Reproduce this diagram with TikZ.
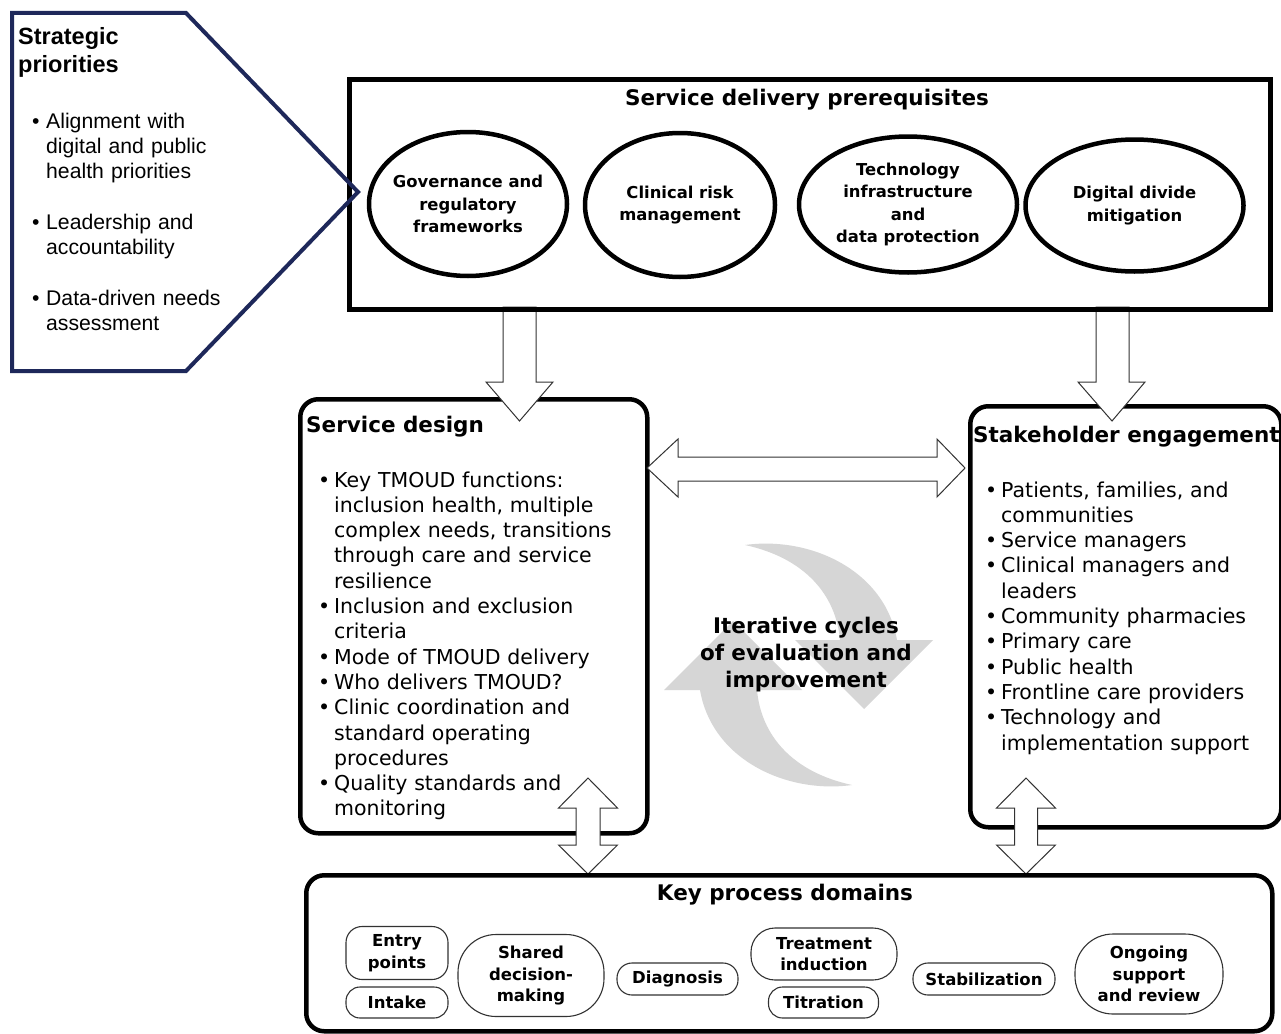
\documentclass[tikz,border=0pt]{standalone}
\usepackage{fontspec}
\setmainfont{DejaVu Sans}
\newfontfamily\arialf{Liberation Sans}
\usetikzlibrary{shapes.geometric}
\definecolor{navy}{RGB}{30,40,90}
\definecolor{cycgray}{RGB}{214,214,214}
\definecolor{arrowline}{RGB}{50,50,50}
\newlength\bind
\newcommand\bfirst[1]{\noindent\hangindent=\bind\hangafter=1\makebox[\bind][l]{\textbullet}#1\par}
\newcommand\bitem[1]{\par\noindent\hangindent=\bind\hangafter=1\makebox[\bind][l]{\textbullet}#1\par}
\begin{document}
\begin{tikzpicture}[x=1pt,y=-1pt,
  bigbox/.style={draw=black,line width=4.5pt,inner sep=0pt},
  rbox/.style={draw=black,line width=4.5pt,rounded corners=18pt,inner sep=0pt},
  ell/.style={draw=black,line width=4.5pt,ellipse,inner sep=0pt},
  elltxt/.style={inner sep=0pt,align=center,font=\bfseries\fontsize{16.4}{22.5}\selectfont},
  pill/.style={draw=arrowline,line width=1.1pt,inner sep=0pt,align=center,font=\bfseries\fontsize{16.5}{21.5}\selectfont},
  fat/.style={draw=arrowline,fill=white,line width=1pt,line join=miter},
  cyc/.style={fill=cycgray},
  ttl/.style={font=\bfseries\fontsize{21.5}{27}\selectfont,inner sep=0pt},
  lst/.style={font=\fontsize{20.5}{25.3}\selectfont,inner sep=0pt,text width=#1,align=left},
  sp/.style={font=\arialf\fontsize{21.2}{25}\selectfont,inner sep=0pt,text width=220pt,align=left,anchor=base west},
]
\useasboundingbox (0,0) rectangle (1281,1033);
\fill[white] (0,0) rectangle (1281,1033);

% iterative cycle arrows
\fill[cyc] (745,545) .. controls (810,536) and (885,570) .. (897,640) -- (933,640) -- (864,709) -- (795,640) -- (840,640) .. controls (836,595) and (805,558) .. (745,545) -- cycle;
\fill[cyc,rotate around={180:(798.5,665)}] (745,545) .. controls (810,536) and (885,570) .. (897,640) -- (933,640) -- (864,709) -- (795,640) -- (840,640) .. controls (836,595) and (805,558) .. (745,545) -- cycle;

% middle boxes
\node[rbox,minimum width=347pt,minimum height=434pt,anchor=north west] (design) at (298,397) {};
\node[rbox,minimum width=311pt,minimum height=421pt,anchor=north west] (stake) at (968,404) {};

% block arrows
\draw[fat] (503,307) -- (503,382) -- (486,382) -- (519.5,421) -- (553,382) -- (536,382) -- (536,307) -- cycle;
\draw[fat] (1096,307) -- (1096,382) -- (1078,382) -- (1112,421) -- (1145,382) -- (1129,382) -- (1129,307) -- cycle;
\draw[fat] (647,468) -- (678,439) -- (678,457) -- (937,457) -- (937,439) -- (965,468) -- (937,497) -- (937,481) -- (678,481) -- (678,497) -- cycle;
\draw[fat] (588,778) -- (617.5,808) -- (600,808) -- (600,845) -- (617.5,845) -- (588,874) -- (558.5,845) -- (576,845) -- (576,808) -- (558.5,808) -- cycle;
\draw[fat] (1026,778) -- (1055.5,808) -- (1037.5,808) -- (1037.5,845) -- (1055.5,845) -- (1026,874) -- (996.5,845) -- (1014.5,845) -- (1014.5,808) -- (996.5,808) -- cycle;

% top and bottom boxes
\node[bigbox,minimum width=921pt,minimum height=230pt,anchor=north west] (prereq) at (347,77) {};
\node[rbox,minimum width=966pt,minimum height=156pt,anchor=north west] (keybox) at (304,873) {};

% prerequisites
\node[ttl,anchor=base] (prereqt) at (807,105) {Service delivery prerequisites};
\node[ell,minimum width=198pt,minimum height=144pt] (gov) at (468,204) {};
\node[elltxt] (govt) at (gov) {Governance and\\regulatory\\frameworks};
\node[ell,minimum width=190pt,minimum height=144pt] (clin) at (680,205) {};
\node[elltxt] (clint) at (clin) {Clinical risk\\management};
\node[ell,minimum width=218pt,minimum height=136pt] (tech) at (908,204.5) {};
\node[elltxt] (techt) at (tech) {Technology\\infrastructure\\and\\data protection};
\node[ell,minimum width=218pt,minimum height=132pt] (dig) at (1134.5,205.5) {};
\node[elltxt] (digt) at (dig) {Digital divide\\mitigation};

% service design
\node[ttl,anchor=base west] (designt) at (306,432) {Service design};
\node[lst=320pt,anchor=base west] (designl) at (318,487) {\setlength\bind{16pt}%
\bfirst{Key TMOUD functions:\newline inclusion health, multiple\newline complex needs, transitions\newline through care and service\newline resilience}%
\bitem{Inclusion and exclusion\newline criteria}%
\bitem{Mode of TMOUD delivery}%
\bitem{Who delivers TMOUD?}%
\bitem{Clinic coordination and\newline standard operating\newline procedures}%
\bitem{Quality standards and\newline monitoring}};

% stakeholder engagement
\node[ttl,anchor=base west] (staket) at (973,442) {Stakeholder engagement};
\node[lst=300pt,anchor=base west] (stakel) at (985,497) {\setlength\bind{16pt}%
\bfirst{Patients, families, and\newline communities}%
\bitem{Service managers}%
\bitem{Clinical managers and\newline leaders}%
\bitem{Community pharmacies}%
\bitem{Primary care}%
\bitem{Public health}%
\bitem{Frontline care providers}%
\bitem{Technology and\newline implementation support}};

% iterative cycles text
\node[font=\bfseries\fontsize{21.5}{27}\selectfont,text width=260pt,align=center,anchor=base,inner sep=0pt] (iter) at (806,633) {Iterative cycles\\of evaluation and\\improvement};

% key process domains
\node[ttl,anchor=base] (keyt) at (785,900) {Key process domains};
\node[pill,minimum width=102pt,minimum height=53pt,rounded corners=16pt] (entry) at (397,953) {Entry\\points};
\node[pill,minimum width=102pt,minimum height=31pt,rounded corners=14pt] (intake) at (397,1002.5) {Intake};
\node[pill,minimum width=146pt,minimum height=82pt,rounded corners=38pt] (shared) at (531,975.5) {Shared\\decision-\\making};
\node[pill,minimum width=121pt,minimum height=32pt,rounded corners=15pt] (diag) at (677.5,979) {Diagnosis};
\node[pill,minimum width=146pt,minimum height=52pt,rounded corners=24pt] (treat) at (824,954) {Treatment\\induction};
\node[pill,minimum width=110pt,minimum height=31pt,rounded corners=14pt] (titr) at (823.5,1002.5) {Titration};
\node[pill,minimum width=142pt,minimum height=32pt,rounded corners=15pt] (stab) at (984,979) {Stabilization};
\node[pill,minimum width=148pt,minimum height=80pt,rounded corners=38pt] (ongo) at (1149,974) {Ongoing\\support\\and review};

% strategic priorities
\draw[navy,line width=4pt,line join=miter] (12,13) -- (186,13) -- (358,192) -- (186,371) -- (12,371) -- cycle;
\node[font=\arialf\bfseries\fontsize{23.5}{28}\selectfont,inner sep=0pt,text width=160pt,align=left,anchor=base west] (spt) at (18,45) {Strategic\\priorities};
\node[sp] (sp1) at (32,128) {\setlength\bind{14pt}\bfirst{Alignment with\newline digital and public\newline health priorities}};
\node[sp] (sp2) at (32,229) {\setlength\bind{14pt}\bfirst{Leadership and\newline accountability}};
\node[sp] (sp3) at (32,305) {\setlength\bind{14pt}\bfirst{Data-driven needs\newline assessment}};
\end{tikzpicture}
\end{document}
